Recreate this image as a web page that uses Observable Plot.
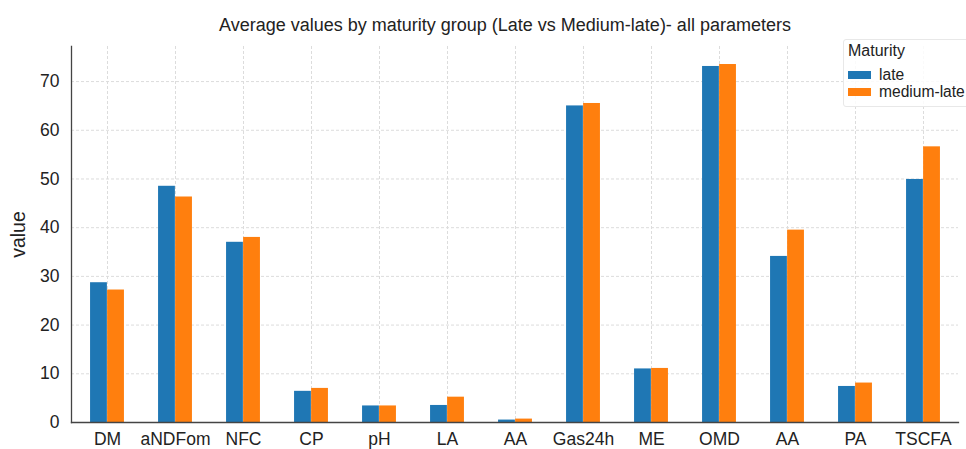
<!DOCTYPE html>
<html>
<head>
<meta charset="utf-8">
<script src="https://cdn.jsdelivr.net/npm/d3@7"></script>
<script src="https://cdn.jsdelivr.net/npm/@observablehq/plot@0.6"></script>
<style>
  html, body { margin: 0; padding: 0; background: #fff; overflow: hidden; }
  body { font-family: "Liberation Sans", Arial, sans-serif; color: #222; }
  #wrap { position: relative; width: 966px; height: 449px; overflow: hidden; }
  #title { position: absolute; top: 15px; left: 219px; font-size: 18px; white-space: nowrap; color: #222; }
  #legend { position: absolute; left: 843px; top: 39px; width: 140px; height: 66px;
            background: rgba(255,255,255,0.85); border: 1px solid #e8e8e8; border-radius: 3px; }
  #legend .lt { position: absolute; left: 4px; top: 2px; font-size: 16px; }
  #legend .row { position: absolute; left: 4px; height: 17px; font-size: 15.6px; white-space: nowrap; }
  #legend .sw { position: absolute; left: 0; top: 5px; width: 23px; height: 8px; }
  #legend .lab { position: absolute; left: 31px; top: 0; }
</style>
</head>
<body>
<div id="wrap">
  <div id="chart"></div>
  <div id="title">Average values by maturity group (Late vs Medium-late)- all parameters</div>
  <div id="legend"></div>
</div>
<script>
const parameters = ["DM", "aNDFom", "NFC", "CP", "pH", "LA", "AA", "Gas24h", "ME", "OMD", "AA", "PA", "TSCFA"];
const late       = [28.7, 48.5, 37.0, 6.4, 3.4, 3.5, 0.5, 65.0, 11.0, 73.1, 34.1, 7.4, 49.9];
const mediumLate = [27.2, 46.3, 38.0, 7.0, 3.4, 5.2, 0.7, 65.5, 11.1, 73.5, 39.5, 8.1, 56.6];
const groups = ["late", "medium-late"];
const colors = ["#1f77b4", "#ff7f0e"];
const yTicks = [0, 10, 20, 30, 40, 50, 60, 70];
const legendTitle = "Maturity";
const yLabel = "value";

const W = 966, H = 449;
const mL = 71, mR = 8, mT = 46, mB = 27;
const step = (W - mL - mR) / parameters.length;
const q = step / 4;

const idx = d3.range(parameters.length);
const lateRows = idx.map(i => ({i, group: groups[0], value: late[i]}));
const mlRows = idx.map(i => ({i, group: groups[1], value: mediumLate[i]}));

const grid = {stroke: "#dcdcdc", strokeOpacity: 1, strokeDasharray: "3,2", strokeWidth: 1};

const chart = Plot.plot({
  width: W, height: H,
  marginLeft: mL, marginRight: mR, marginTop: mT, marginBottom: mB,
  style: {fontFamily: "'Liberation Sans', Arial, sans-serif", fontSize: "17px", color: "#222", background: "#fff", overflow: "visible"},
  x: {domain: idx, padding: 0},
  y: {domain: [0, 77.2]},
  color: {domain: groups, range: colors},
  marks: [
    Plot.gridY(yTicks, grid),
    Plot.gridX(idx, grid),
    Plot.barY(lateRows, {x: "i", y: "value", fill: "group", insetLeft: q, insetRight: 2 * q}),
    Plot.barY(mlRows, {x: "i", y: "value", fill: "group", insetLeft: 2 * q, insetRight: q}),
    Plot.axisY(yTicks, {tickSize: 0, tickPadding: 12, fontSize: 17.5, label: null}),
    Plot.axisY([], {tickSize: 0, fontSize: 19.5, label: yLabel, labelAnchor: "center", labelArrow: "none", labelOffset: 60}),
    Plot.axisX(idx, {tickSize: 0, tickPadding: 10, fontSize: 17.5, tickFormat: i => parameters[i], label: null}),
    Plot.frame({anchor: "left", stroke: "#444", strokeWidth: 1.3}),
    Plot.frame({anchor: "bottom", stroke: "#444", strokeWidth: 1.3})
  ]
});
document.getElementById("chart").appendChild(chart);

const legend = d3.select("#legend");
legend.append("div").attr("class", "lt").text(legendTitle);
groups.forEach((g, k) => {
  const row = legend.append("div").attr("class", "row").style("top", (26 + k * 17) + "px");
  row.append("div").attr("class", "sw").style("background", colors[k]);
  row.append("div").attr("class", "lab").text(g);
});
</script>
</body>
</html>
